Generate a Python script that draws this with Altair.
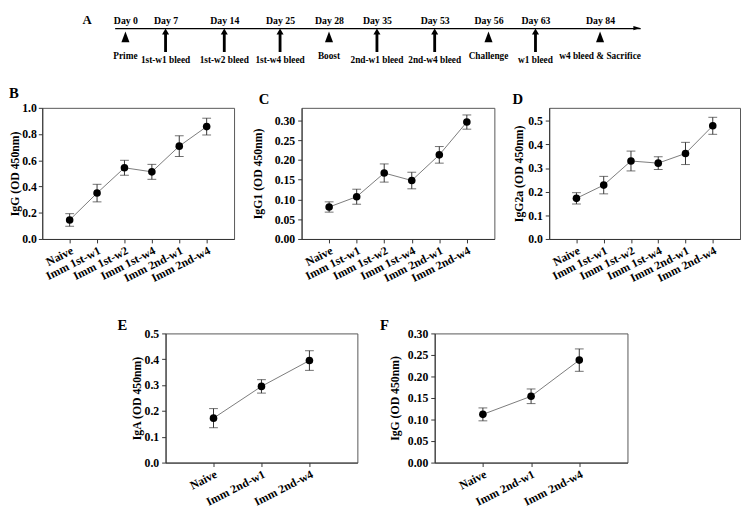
import altair as alt
import pandas as pd

FONT = "Liberation Serif"

# ---------------- data ----------------
groups6 = ["Naive", "Imm 1st-w1", "Imm 1st-w2", "Imm 1st-w4", "Imm 2nd-w1", "Imm 2nd-w4"]
groups3 = ["Naive", "Imm 2nd-w1", "Imm 2nd-w4"]

igg_mean = [0.145, 0.350, 0.543, 0.512, 0.708, 0.857]
igg_err = [0.048, 0.067, 0.057, 0.057, 0.079, 0.064]

igg1_mean = [0.081, 0.107, 0.167, 0.148, 0.213, 0.296]
igg1_err = [0.013, 0.019, 0.023, 0.021, 0.021, 0.018]

igg2a_mean = [0.172, 0.228, 0.330, 0.321, 0.362, 0.479]
igg2a_err = [0.024, 0.037, 0.042, 0.027, 0.047, 0.036]

iga_mean = [0.172, 0.295, 0.395]
iga_err = [0.037, 0.026, 0.038]

iggf_mean = [0.112, 0.154, 0.238]
iggf_err = [0.015, 0.017, 0.026]

days = [0, 7, 14, 25, 28, 35, 53, 56, 63, 84]
events = ["Prime", "1st-w1 bleed", "1st-w2 bleed", "1st-w4 bleed", "Boost",
          "2nd-w1 bleed", "2nd-w4 bleed", "Challenge", "w1 bleed", "w4 bleed & Sacrifice"]
kinds = ["step", "bleed", "bleed", "bleed", "step", "bleed", "bleed", "step", "bleed", "step"]

# schematic (not-to-scale) placement of the timeline events
TL_W = 537
day_start, day_end = -2, 97
tl_slots = [0, 11, 52, 112, 169, 219, 268, 327, 382, 430, 496, TL_W]


# ---------------- helpers ----------------
def spacer(w, h=1):
    return alt.Chart(pd.DataFrame({"s": []})).mark_point(opacity=0).properties(
        width=w, height=h, view=alt.ViewBackground(stroke="transparent"))


def panel(letter, cats, mean, err, ytitle, ymax, yticks, fmt, width, height,
          label_pad, title_pad, letter_dx, letter_offset):
    df = pd.DataFrame({
        "group": cats,
        "mean": mean,
        "lo": [m - e for m, e in zip(mean, err)],
        "hi": [m + e for m, e in zip(mean, err)],
    })
    x = alt.X("group:N", sort=cats,
              scale=alt.Scale(type="point", domain=cats, padding=1),
              axis=alt.Axis(title=None, labelAngle=333, labelAlign="right",
                            labelBaseline="top", labelPadding=2, tickSize=4,
                            labelOverlap=False, labelFontSize=12))

    def ych(field):
        return alt.Y(field, scale=alt.Scale(domain=[0, ymax], nice=False, zero=True),
                     axis=alt.Axis(title=ytitle, values=yticks, format=fmt,
                                   labelPadding=label_pad, titlePadding=title_pad,
                                   tickSize=4, labelFlush=False, labelOverlap=False))

    base = alt.Chart(df)
    line = base.mark_line(color="#7a7a7a", strokeWidth=1).encode(x=x, y=ych("mean:Q"))
    rule = base.mark_rule(color="#333333", strokeWidth=1).encode(
        x=x, y=ych("lo:Q"), y2="hi:Q")
    cap_lo = base.mark_tick(color="#333333", size=9, thickness=1,
                            orient="horizontal").encode(x=x, y=ych("lo:Q"))
    cap_hi = base.mark_tick(color="#333333", size=9, thickness=1,
                            orient="horizontal").encode(x=x, y=ych("hi:Q"))
    pts = base.mark_circle(color="black", size=60, opacity=1).encode(x=x, y=ych("mean:Q"))
    return alt.layer(line, rule, cap_lo, cap_hi, pts).properties(
        width=width, height=height,
        title=alt.TitleParams(letter, anchor="start", dx=letter_dx, offset=letter_offset,
                              fontSize=15, font=FONT, fontWeight="bold", color="black"))


# ---------------- panel A: timeline ----------------
tl = pd.DataFrame({"day": days, "event": events, "kind": kinds})
x_tl = alt.X("day:Q",
             scale=alt.Scale(domain=[day_start] + days + [day_end], range=tl_slots,
                             nice=False, zero=False, clamp=False),
             axis=alt.Axis(orient="top", title=None, values=days,
                           labelExpr="'Day ' + datum.value", ticks=False,
                           domainColor="black", domainWidth=1.2, labelFontSize=10,
                           labelPadding=3, labelFlush=False, labelOverlap=False))

TRI = "M-0.75,1L0,-1L0.75,1Z"
ARROW = "M-0.12,1L0.12,1L0.12,-0.5L0.3,-0.5L0,-1L-0.3,-0.5L-0.12,-0.5Z"
HEAD = "M-2,-0.6L0,0L-2,0.6Z"

tl_base = alt.Chart(tl)
tri = tl_base.transform_filter("datum.kind == 'step'").mark_point(
    shape=TRI, filled=True, color="black", opacity=1, size=121, strokeWidth=0
).encode(x=x_tl, y=alt.value(9))
arr = tl_base.transform_filter("datum.kind == 'bleed'").mark_point(
    shape=ARROW, filled=True, color="black", opacity=1, size=576, strokeWidth=0
).encode(x=x_tl, y=alt.value(12.5))
lab_step = tl_base.transform_filter("datum.kind == 'step'").mark_text(
    font=FONT, fontSize=9.5, fontWeight="bold", color="black", baseline="middle"
).encode(x=x_tl, y=alt.value(28.5), text="event:N")
lab_bleed = tl_base.transform_filter("datum.kind == 'bleed'").mark_text(
    font=FONT, fontSize=9.5, fontWeight="bold", color="black", baseline="middle"
).encode(x=x_tl, y=alt.value(33), text="event:N")
head = alt.Chart(pd.DataFrame({"a": [0]})).mark_point(
    shape=HEAD, filled=True, color="black", opacity=1, size=49, strokeWidth=0
).encode(x=alt.datum(day_end), y=alt.value(0))

chart_a = alt.layer(tri, arr, lab_step, lab_bleed, head).properties(
    width=TL_W, height=40, view=alt.ViewBackground(stroke="transparent"),
    title=alt.TitleParams("A", anchor="start", dx=-31.6, offset=-12, fontSize=13,
                          baseline="top", font=FONT, fontWeight="bold", color="black"))

# ---------------- panels B-F ----------------
pb = panel("B", groups6, igg_mean, igg_err, "IgG (OD 450nm)", 1.0,
           [0, 0.2, 0.4, 0.6, 0.8, 1.0], ".1f", 196, 134, 2, 0, 0, 1)
pc = panel("C", groups6, igg1_mean, igg1_err, "IgG1 (OD 450nm)", 0.332,
           [0, 0.05, 0.10, 0.15, 0.20, 0.25, 0.30], ".2f", 197, 134, 3, 9.7, 7, 1)
pd_ = panel("D", groups6, igg2a_mean, igg2a_err, "IgG2a (OD 450nm)", 0.555,
            [0, 0.1, 0.2, 0.3, 0.4, 0.5], ".1f", 195, 134, 3, 2.6, 0, 1)
pe = panel("E", groups3, iga_mean, iga_err, "IgA (OD 450nm)", 0.5,
           [0, 0.1, 0.2, 0.3, 0.4, 0.5], ".1f", 196, 132, 3, 1, -13, -6)
pf = panel("F", groups3, iggf_mean, iggf_err, "IgG (OD 450nm)", 0.30,
           [0, 0.05, 0.10, 0.15, 0.20, 0.25, 0.30], ".2f", 197, 132, 3, 6.4, -8.6, -6)

row1 = alt.hconcat(spacer(39), chart_a, spacing=0)
row2 = alt.hconcat(pb, pc, pd_, spacing=16)
row3 = alt.hconcat(spacer(54), pe, pf, spacing=21)

chart = alt.vconcat(alt.vconcat(row1, row2, spacing=17.5), row3, spacing=34).properties(
    padding=0, background="white"
).configure_view(
    stroke="#555555", strokeWidth=1
).configure_axis(
    labelFont=FONT, titleFont=FONT, labelFontWeight="bold", titleFontWeight="bold",
    labelColor="black", titleColor="black", labelFontSize=12, titleFontSize=12,
    grid=False, domainColor="#333333", tickColor="#333333"
)

chart.save("out.html", embed_options={"renderer": "svg", "actions": False})
